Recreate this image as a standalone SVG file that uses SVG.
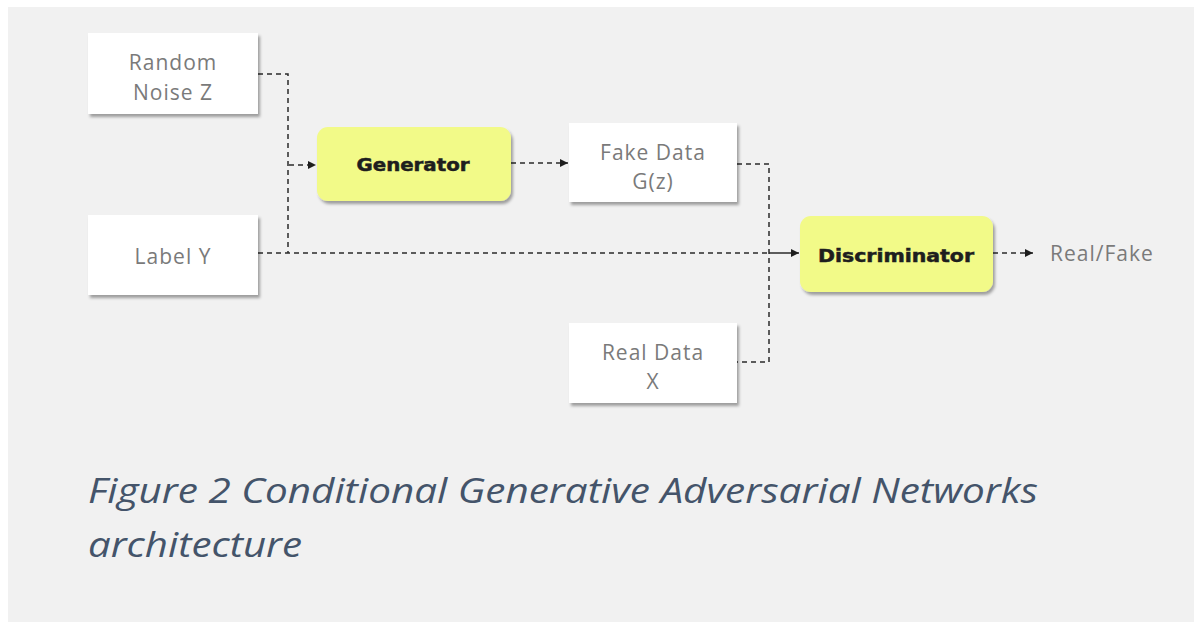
<svg xmlns="http://www.w3.org/2000/svg" width="1194" height="626" viewBox="0 0 1194 626">
  <style>
    .box { fill: #ffffff; filter: url(#shadow); }
    .proc { fill: #f2fa88; filter: url(#shadow); }
    .lbl { font-family: "Open Sans", "Liberation Sans", sans-serif; font-size: 21px; letter-spacing: 1px; fill: #7a7a7a; text-anchor: middle; }
    .bold { font-family: "DejaVu Sans", "Liberation Sans", sans-serif; font-weight: 900; font-size: 17px; fill: #1e1e1e; text-anchor: middle; stroke: #1e1e1e; stroke-width: 0.5; }
    .dash { fill: none; stroke: #2a2a2a; stroke-width: 1.5; stroke-dasharray: 5 4; }
    .solid { fill: none; stroke: #2a2a2a; stroke-width: 1.5; }
    .cap { font-family: "Open Sans", "Liberation Sans", sans-serif; font-style: italic; font-size: 34px; fill: #44546a; }
  </style>
  <defs>
    <filter id="shadow" x="-10%" y="-10%" width="125%" height="135%">
      <feDropShadow dx="2" dy="3" stdDeviation="1.6" flood-color="#000" flood-opacity="0.35"/>
    </filter>
    <marker id="arr" viewBox="0 0 10 10" refX="10" refY="5" markerWidth="9" markerHeight="8" markerUnits="userSpaceOnUse" orient="auto">
      <path d="M0,0 L10,5 L0,10 z" fill="#1e1e1e"/>
    </marker>
  </defs>

  <!-- page panel -->
  <rect x="0" y="0" width="1194" height="626" fill="#ffffff"/>
  <rect x="8" y="7" width="1186" height="615" fill="#f1f1f1"/>

  <!-- connectors -->
  <g id="connectors">
    <path class="dash" d="M258,74 H288 V253"/>
    <path class="dash" d="M289,165 H316" marker-end="url(#arr)"/>
    <path class="dash" d="M511,163 H568" marker-end="url(#arr)"/>
    <path class="dash" d="M737,164 H769 V362 H737"/>
    <path class="dash" d="M258,253 H769"/>
    <path class="solid" d="M769,253 H799" marker-end="url(#arr)"/>
    <path class="dash" d="M993,253 H1033" marker-end="url(#arr)"/>
  </g>

  <g id="random-noise">
    <rect class="box" x="88" y="33" width="170" height="81"/>
    <text class="lbl" x="173" y="70">Random</text>
    <text class="lbl" x="173" y="100">Noise Z</text>
  </g>

  <g id="label-y">
    <rect class="box" x="88" y="215" width="170" height="80"/>
    <text class="lbl" x="173" y="264">Label Y</text>
  </g>

  <g id="generator">
    <rect class="proc" x="317" y="127" width="194" height="74" rx="11"/>
    <text class="bold" x="413" y="171" textLength="113" lengthAdjust="spacingAndGlyphs">Generator</text>
  </g>

  <g id="fake-data">
    <rect class="box" x="569" y="123" width="168" height="79"/>
    <text class="lbl" x="653" y="160">Fake Data</text>
    <text class="lbl" x="653" y="189">G(z)</text>
  </g>

  <g id="real-data">
    <rect class="box" x="569" y="323" width="168" height="80"/>
    <text class="lbl" x="653" y="360">Real Data</text>
    <text class="lbl" x="653" y="389">X</text>
  </g>

  <g id="discriminator">
    <rect class="proc" x="800" y="216" width="193" height="76" rx="11"/>
    <text class="bold" x="896" y="262" textLength="156" lengthAdjust="spacingAndGlyphs">Discriminator</text>
  </g>

  <g id="output">
    <text class="lbl" x="1050" y="261" style="text-anchor:start">Real/Fake</text>
  </g>

  <!-- caption -->
  <text class="cap" x="88" y="503" textLength="950" lengthAdjust="spacingAndGlyphs">Figure 2 Conditional Generative Adversarial Networks</text>
  <text class="cap" x="88" y="557" textLength="214" lengthAdjust="spacingAndGlyphs">architecture</text>
</svg>
